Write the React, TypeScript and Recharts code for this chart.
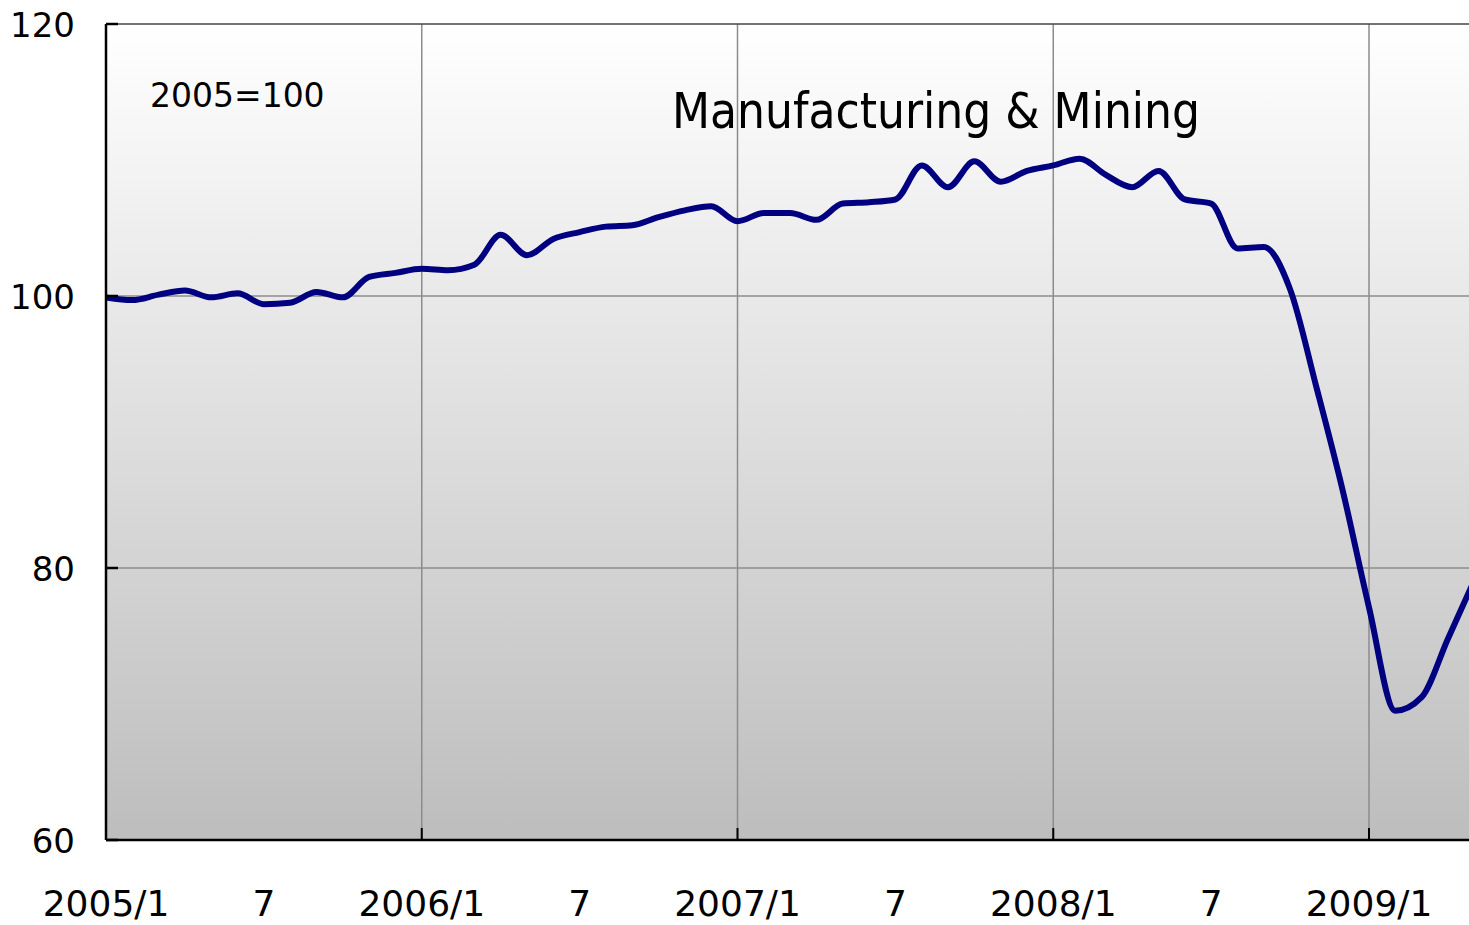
import { LineChart, Line, XAxis, YAxis, CartesianGrid, ReferenceLine } from "recharts"

// Japan industrial production, monthly, 2005=100
const values = [
  99.9, 99.7, 100.1, 100.4, 99.9, 100.2, 99.4, 99.5, 100.3, 99.9, 101.4, 101.7,
  102.0, 101.9, 102.3, 104.5, 103.0, 104.2, 104.7, 105.1, 105.2, 105.8, 106.3, 106.6,
  105.5, 106.1, 106.1, 105.6, 106.8, 106.9, 107.1, 109.6, 108.0, 109.9, 108.4, 109.2,
  109.6, 110.1, 108.9, 108.0, 109.2, 107.1, 106.8, 103.5, 103.6, 100.5, 93.3, 85.7,
  77.1, 69.5, 70.5, 74.8, 79.1,
]

const xTickPositions = [0, 6, 12, 18, 24, 30, 36, 42, 48]
const xTickLabels = ["2005/1", "7", "2006/1", "7", "2007/1", "7", "2008/1", "7", "2009/1"]
const yearLines = [12, 24, 36, 48]
const yTicks = [60, 80, 100, 120]
const yGrid = [80, 100]

const data = values.map((v, i) => ({ m: i, v }))

const FONT = "'DejaVu Sans', Verdana, sans-serif"

function XTick(props: any) {
  const { x, y, payload } = props
  const label = xTickLabels[xTickPositions.indexOf(payload.value)]
  const isYear = payload.value % 12 === 0 && payload.value > 0
  return (
    <g>
      {isYear && <line x1={x} x2={x} y1={y} y2={y - 12} stroke="#000" strokeWidth={2} />}
      <text x={x} y={y + 76} textAnchor="middle" fontFamily={FONT} fontSize={36} fill="#000">
        {label}
      </text>
    </g>
  )
}

function YTick(props: any) {
  const { x, y, payload } = props
  return (
    <g>
      <line x1={x} x2={x + 12} y1={y} y2={y} stroke="#000" strokeWidth={2.5} />
      <text x={x - 31} y={y + 13} textAnchor="end" fontFamily={FONT} fontSize={34} fill="#000">
        {payload.value}
      </text>
    </g>
  )
}

export default function App() {
  return (
    <div style={{ position: "absolute", left: 0, top: 0, width: 1469, height: 925, background: "#fff" }}>
      <LineChart width={1469} height={925} data={data} margin={{ top: 24, right: 0, bottom: 0, left: 0 }}>
        <defs>
          <linearGradient id="bg" x1="0" y1="0" x2="0" y2="1">
            <stop offset="0" stopColor="#ffffff" />
            <stop offset="1" stopColor="#bdbdbd" />
          </linearGradient>
        </defs>
        <CartesianGrid horizontal={false} vertical={false} fill="url(#bg)" fillOpacity={1} />
        {yearLines.map((m) => (
          <ReferenceLine key={`vx-${m}`} x={m} stroke="#8c8c8c" strokeWidth={1.5} />
        ))}
        {yGrid.map((g) => (
          <ReferenceLine key={`hy-${g}`} y={g} stroke="#8c8c8c" strokeWidth={1.5} />
        ))}
        <ReferenceLine y={120} stroke="#444" strokeWidth={1.5} />
        <XAxis
          type="number"
          dataKey="m"
          domain={[0, 51.8]}
          allowDataOverflow
          ticks={xTickPositions}
          interval={0}
          tickSize={0}
          tickMargin={0}
          tickLine={false}
          tick={<XTick />}
          height={85}
          axisLine={{ stroke: "#000", strokeWidth: 2.5 }}
        />
        <YAxis
          domain={[60, 120]}
          ticks={yTicks}
          interval={0}
          tickSize={0}
          tickMargin={0}
          tickLine={false}
          tick={<YTick />}
          width={106}
          axisLine={{ stroke: "#000", strokeWidth: 2.5 }}
        />
        <Line
          type="monotone"
          dataKey="v"
          stroke="#000080"
          strokeWidth={6}
          dot={false}
          activeDot={false}
          isAnimationActive={false}
        />
        <text x={150} y={107} fontFamily={FONT} fontSize={33} fill="#000">
          2005=100
        </text>
        <text x={672} y={128} fontFamily="'DejaVu Sans Condensed', 'Liberation Sans', sans-serif" fontSize={49} fill="#000">
          Manufacturing &amp; Mining
        </text>
      </LineChart>
    </div>
  )
}
